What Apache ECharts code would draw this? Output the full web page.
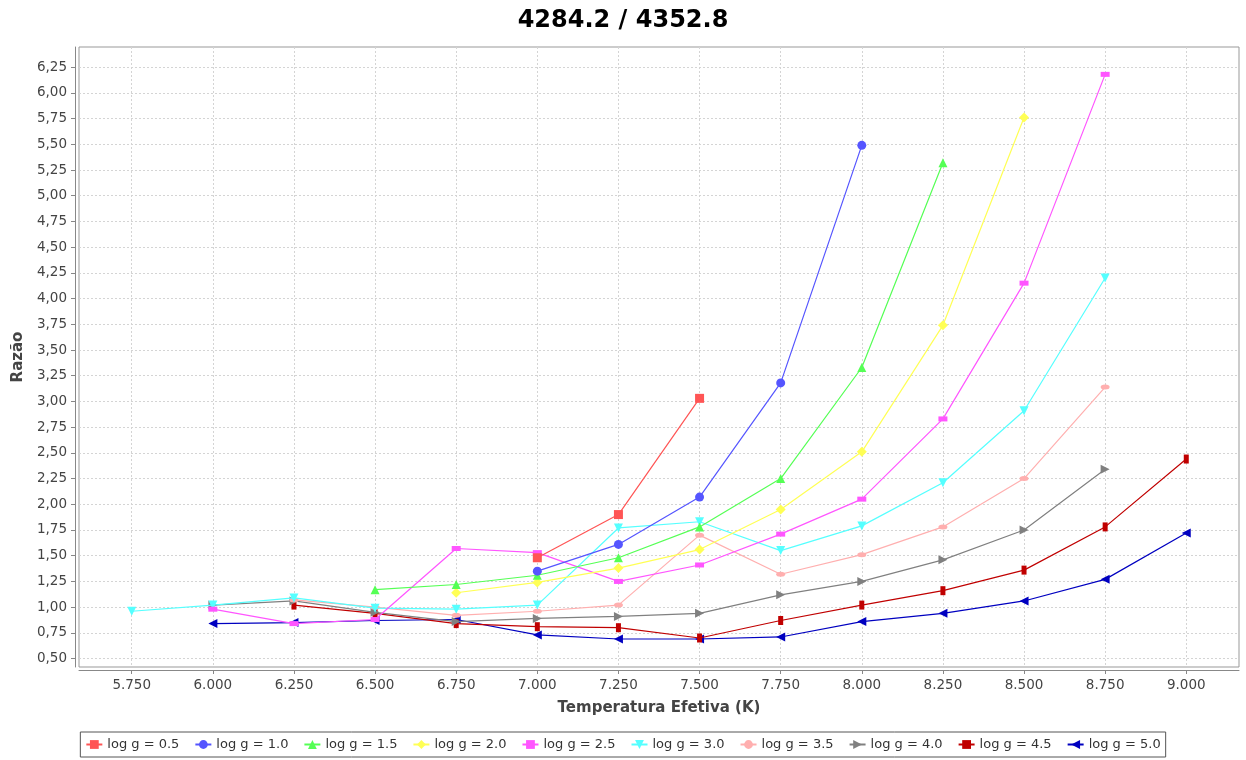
<!DOCTYPE html>
<html>
<head>
<meta charset="utf-8">
<title>4284.2 / 4352.8</title>
<script src="https://cdn.jsdelivr.net/npm/echarts@6/dist/echarts.min.js"></script>
<style>
  html, body { margin: 0; padding: 0; background: #fff; }
  #chart { width: 1246px; height: 760px; }
</style>
</head>
<body>
<div id="chart"></div>
<script>
// Effective temperature grid (K) shared by all curves
const temps = [5750, 6000, 6250, 6500, 6750, 7000, 7250, 7500, 7750, 8000, 8250, 8500, 8750, 9000];

// Ratio per surface gravity; null where the model grid has no point
const logg05 = [null, null, null, null, null, 1.48, 1.90, 3.03, null, null, null, null, null, null];
const logg10 = [null, null, null, null, null, 1.35, 1.61, 2.07, 3.18, 5.49, null, null, null, null];
const logg15 = [null, null, null, 1.17, 1.22, 1.31, 1.48, 1.78, 2.25, 3.33, 5.32, null, null, null];
const logg20 = [null, null, null, null, 1.14, 1.24, 1.38, 1.56, 1.95, 2.51, 3.74, 5.76, null, null];
const logg25 = [null, 0.98, 0.84, 0.88, 1.57, 1.53, 1.25, 1.41, 1.71, 2.05, 2.83, 4.15, 6.18, null];
const logg30 = [0.96, 1.02, 1.09, 0.99, 0.98, 1.02, 1.77, 1.83, 1.55, 1.79, 2.21, 2.91, 4.20, null];
const logg35 = [null, null, 1.07, 1.00, 0.92, 0.96, 1.02, 1.70, 1.32, 1.51, 1.78, 2.25, 3.14, null];
const logg40 = [null, 1.02, 1.06, 0.95, 0.86, 0.89, 0.91, 0.94, 1.12, 1.25, 1.46, 1.75, 2.34, null];
const logg45 = [null, null, 1.02, 0.94, 0.84, 0.81, 0.80, 0.70, 0.87, 1.02, 1.16, 1.36, 1.78, 2.44];
const logg50 = [null, 0.84, 0.85, 0.87, 0.88, 0.73, 0.69, 0.69, 0.71, 0.86, 0.94, 1.06, 1.27, 1.72];

const seriesNames = ['log g = 0.5', 'log g = 1.0', 'log g = 1.5', 'log g = 2.0', 'log g = 2.5',
                     'log g = 3.0', 'log g = 3.5', 'log g = 4.0', 'log g = 4.5', 'log g = 5.0'];
const seriesValues = [logg05, logg10, logg15, logg20, logg25, logg30, logg35, logg40, logg45, logg50];

// Tick labels on both axes
const xTickValues = [5750, 6000, 6250, 6500, 6750, 7000, 7250, 7500, 7750, 8000, 8250, 8500, 8750, 9000];
const yTickValues = [0.50, 0.75, 1.00, 1.25, 1.50, 1.75, 2.00, 2.25, 2.50, 2.75, 3.00,
                     3.25, 3.50, 3.75, 4.00, 4.25, 4.50, 4.75, 5.00, 5.25, 5.50, 5.75, 6.00, 6.25];

// Per-series look: colour, marker shape and marker size
const colors = ['#FF5555', '#5555FF', '#55FF55', '#FFFF55', '#FF55FF',
                '#55FFFF', '#FFAFAF', '#808080', '#C00000', '#0000C0'];
const ellipse = 'path://M0,5A5,2.5 0 1 1 10,5A5,2.5 0 1 1 0,5Z';
const markers = [
  { symbol: 'rect', size: 9 },
  { symbol: 'circle', size: 9 },
  { symbol: 'triangle', size: 9 },
  { symbol: 'diamond', size: 10 },
  { symbol: 'rect', size: [9, 5] },
  { symbol: 'path://M0,0L10,0L5,10Z', size: 9 },
  { symbol: ellipse, size: [9, 5] },
  { symbol: 'path://M0,0L10,5L0,10Z', size: 9 },
  { symbol: 'rect', size: [5, 9] },
  { symbol: 'path://M10,0L0,5L10,10Z', size: 9 }
];

const FONT = 'DejaVu Sans';

const series = seriesNames.map((name, i) => ({
  name: name,
  type: 'line',
  data: temps.map((t, k) => [t, seriesValues[i][k]]).filter(p => p[1] !== null),
  symbol: markers[i].symbol,
  symbolSize: markers[i].size,
  showAllSymbol: true,
  // first series is painted on top
  z: 30 - i,
  lineStyle: { color: colors[i], width: 1.2 },
  itemStyle: { color: colors[i] },
  emphasis: { disabled: true },
  animation: false
}));

const chart = echarts.init(document.getElementById('chart'), null, { renderer: 'canvas' });

chart.setOption({
  backgroundColor: '#ffffff',
  animation: false,
  title: {
    text: '4284.2 / 4352.8',
    left: 'center',
    top: 4,
    textStyle: { fontFamily: FONT, fontSize: 24, fontWeight: 'bold', color: '#000' }
  },
  legend: {
    data: seriesNames,
    left: 'center',
    bottom: 3,
    padding: [6, 5],
    itemGap: 15,
    itemWidth: 16,
    itemHeight: 11,
    borderColor: '#555',
    borderWidth: 1,
    borderRadius: 0,
    textStyle: { fontFamily: FONT, fontSize: 13, color: '#333' }
  },
  grid: {
    left: 79,
    right: 7,
    top: 47,
    bottom: 93,
    show: true,
    borderColor: '#999',
    borderWidth: 1,
    backgroundColor: '#fff'
  },
  xAxis: {
    type: 'value',
    min: 5587.5,
    max: 9162.5,
    offset: 3,
    name: 'Temperatura Efetiva (K)',
    nameLocation: 'middle',
    nameGap: 31,
    nameTextStyle: { fontFamily: FONT, fontSize: 15, fontWeight: 'bold', color: '#444' },
    axisLine: { show: true, lineStyle: { color: '#888' } },
    axisTick: { show: true, length: 4, lineStyle: { color: '#888' }, customValues: xTickValues },
    axisLabel: {
      customValues: xTickValues,
      margin: 8,
      fontFamily: FONT,
      fontSize: 13.5,
      color: '#444',
      formatter: v => (v / 1000).toFixed(3)
    },
    splitLine: { show: true, lineStyle: { color: '#d4d4d4', type: [2, 2], width: 1 } }
  },
  yAxis: {
    type: 'value',
    min: 0.418,
    max: 6.446,
    offset: 4,
    name: 'Razão',
    nameLocation: 'middle',
    nameRotate: 90,
    nameGap: 49,
    nameTextStyle: { fontFamily: FONT, fontSize: 15, fontWeight: 'bold', color: '#444' },
    axisLine: { show: true, lineStyle: { color: '#888' } },
    axisTick: { show: true, length: 4, lineStyle: { color: '#888' }, customValues: yTickValues },
    axisLabel: {
      customValues: yTickValues,
      margin: 8,
      fontFamily: FONT,
      fontSize: 13.5,
      color: '#444',
      formatter: v => v.toFixed(2).replace('.', ',')
    },
    splitLine: { show: true, lineStyle: { color: '#d4d4d4', type: [2, 2], width: 1 } }
  },
  series: series
});
</script>
</body>
</html>
